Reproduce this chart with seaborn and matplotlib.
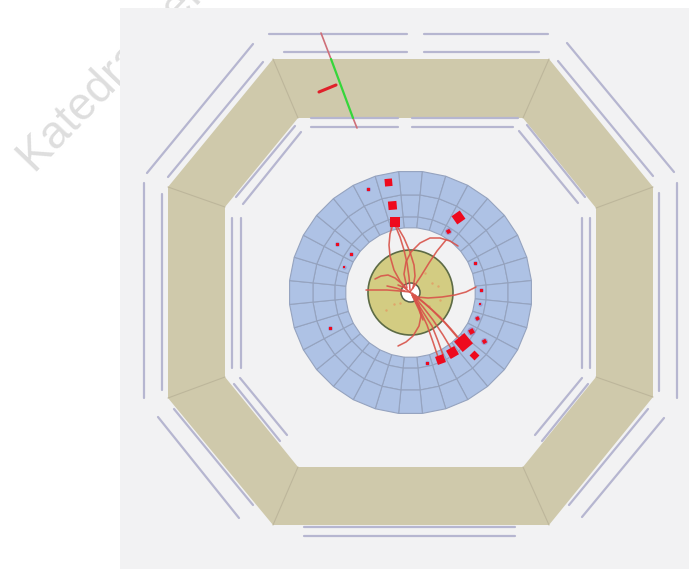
import numpy as np
import pandas as pd
import matplotlib
matplotlib.use("Agg")
import matplotlib.pyplot as plt
from matplotlib.markers import MarkerStyle
from matplotlib.transforms import Affine2D
import seaborn as sns

sns.set_theme(style="white")
plt.rcParams["font.family"] = ["Liberation Sans", "DejaVu Sans"]

panel_x = [120, 689, 689, 120]
panel_y = [8, 8, 569, 569]

outer_x = [273, 549, 653, 653, 549, 273, 168, 168]
outer_y = [59, 59, 187, 397, 525, 525, 398, 187]
inner_x = [298, 523, 596, 596, 523, 298, 225, 225]
inner_y = [118, 118, 208, 377, 467, 467, 377, 207]

# muon chambers: x0, y0, x1, y1
chambers = [
    (269, 34, 407, 34), (424, 34, 548, 34), (284, 52, 407, 52), (424, 52, 539, 52),
    (311, 118, 398, 118), (412, 118, 518, 118), (311, 127, 398, 127), (412, 127, 513, 127),
    (304, 527, 515, 527), (304, 536, 515, 536),
    (144, 183, 144, 398), (162, 194, 162, 390), (232, 218, 232, 368), (241, 218, 241, 368),
    (582, 218, 582, 368), (590, 218, 590, 368), (659, 193, 659, 391), (677, 183, 677, 398),
    (147, 173, 253, 44), (168, 177, 263, 62), (236, 197, 295, 126), (243, 204, 301, 132),
    (567, 43, 674, 172), (558, 61, 653, 176), (527, 125, 585, 197), (519, 131, 578, 203),
    (158, 417, 239, 518), (174, 409, 253, 505), (234, 384, 280, 441), (240, 378, 287, 435),
    (569, 505, 648, 409), (582, 517, 664, 418), (535, 435, 582, 378), (542, 441, 588, 384),
]

# calorimeter ring and tracker
center_x, center_y = 410.5, 292.5
ring_radii = [65, 76, 98, 121.5]
n_cells = 32
tracker_r = 42.5
hole_r = 9.5

tracks = [
    [(393, 224), (390, 234), (389, 245), (390, 256), (394, 270), (400, 281), (406, 288)],
    [(395, 225), (400, 237), (404, 250), (407, 263), (409, 277), (410, 290)],
    [(397, 226), (404, 238), (410, 252), (414, 265), (415, 276), (413, 288)],
    [(458, 246), (450, 241), (440, 238), (430, 238), (420, 243), (411, 252), (406, 262), (404, 274), (407, 288)],
    [(446, 240), (437, 251), (429, 263), (421, 276), (415, 285), (410, 292)],
    [(366, 290), (387, 290), (400, 291), (410, 292)],
    [(375, 279), (381, 276), (388, 275), (395, 278), (401, 283), (407, 290)],
    [(387, 286), (396, 288), (405, 291)],
    [(476, 287), (466, 292), (455, 295), (442, 297), (428, 298), (417, 297), (412, 293)],
    [(398, 346), (406, 342), (413, 336), (419, 326), (421, 316), (419, 305), (412, 295)],
    [(412, 295), (420, 310), (427, 325), (433, 342), (438, 357)],
    [(413, 296), (423, 312), (432, 326), (438, 341), (443, 355)],
    [(413, 295), (423, 307), (433, 320), (443, 335), (452, 350)],
    [(415, 295), (428, 306), (440, 317), (451, 329), (462, 342)],
    [(415, 296), (424, 303), (432, 310), (445, 323), (457, 337)],
    [(413, 297), (419, 310), (423, 320)],
    [(398, 285), (405, 288), (412, 294), (418, 300)],
]

# calorimeter hits
hit_x = [388, 392, 395, 458, 463, 452, 440, 474, 471, 484, 477, 481, 480, 475, 448, 368, 337, 351, 344, 330, 427]
hit_y = [182, 205, 222, 217, 342, 352, 359, 355, 331, 341, 318, 290, 304, 263, 231, 189, 244, 254, 267, 328, 363]
hit_w = [7.5, 8.5, 9.5, 10, 13.5, 9.5, 8.5, 7, 5, 4, 3.5, 3, 2.5, 3, 4, 3, 3, 3, 2.5, 3, 3]
hit_a = [5, 5, 0, 35, 40, 30, 20, 45, 30, 30, 30, 0, 0, 0, 30, 0, 0, 0, 0, 0, 0]

# muon track segments
muon_red = [[(321, 33), (331, 59)], [(353, 118), (357, 128)]]
muon_green = [[(331, 59), (353, 118)]]
stub = [[(319, 92), (336, 85)]]

small_spots_x = [394, 425, 440, 386, 429, 400, 432, 438]
small_spots_y = [304, 273, 300, 310, 306, 303, 283, 286]


def paths(groups):
    rows = [(i, x, y) for i, g in enumerate(groups) for x, y in g]
    return pd.DataFrame(rows, columns=["path", "x", "y"])


def draw(groups, ax, **kws):
    sns.lineplot(data=paths(groups), x="x", y="y", units="path", estimator=None,
                 sort=False, legend=False, ax=ax, **kws)


fig = plt.figure(figsize=(6.89, 5.69), dpi=100)
ax = fig.add_axes([0, 0, 1, 1])

ax.text(35, 174, "Katedra literatury", rotation=46, rotation_mode="anchor",
        fontsize=33, color="#dedede", ha="left", va="baseline", zorder=0)

ax.fill(panel_x, panel_y, color="#f2f2f3", lw=0, zorder=1)

# iron yoke
ax.fill(outer_x + outer_x[:1] + inner_x[:1] + inner_x[::-1],
        outer_y + outer_y[:1] + inner_y[:1] + inner_y[::-1],
        color="#cfc9ab", lw=0, zorder=2)
spokes = [[(a, b), (c, d)] for a, b, c, d in zip(outer_x, outer_y, inner_x, inner_y)]
draw(spokes, ax, color="#bdb69b", lw=0.8, zorder=3)

draw([[(a, b), (c, d)] for a, b, c, d in chambers], ax, color="#b6b6d0", lw=1.6, zorder=3)

# calorimeter cells, one cell is centred on the top of the ring
theta = (np.arange(n_cells + 1) - 0.5) * 2 * np.pi / n_cells
for r0, r1 in zip(ring_radii[:-1], ring_radii[1:]):
    for k in range(n_cells):
        t = theta[[k, k + 1, k + 1, k]]
        r = np.array([r1, r1, r0, r0])
        ax.fill(center_x + r * np.sin(t), center_y - r * np.cos(t),
                facecolor="#aec2e5", edgecolor="#95a3bf", lw=0.8, zorder=4)

ax.add_patch(plt.Circle((center_x, center_y), tracker_r, facecolor="#d3cc82",
                        edgecolor="#5d6b45", lw=1.2, zorder=5))
sns.scatterplot(x=small_spots_x, y=small_spots_y, s=3, color="#dfa56a", linewidth=0,
                legend=False, ax=ax, zorder=6)
ax.add_patch(plt.Circle((center_x, center_y), hole_r, facecolor="white",
                        edgecolor="#55604a", lw=1.1, zorder=6))

draw(tracks, ax, color="#d8534a", lw=1.15, alpha=0.9, zorder=7)

# hits, the small ones get a purple rim
hits = pd.DataFrame({"x": hit_x, "y": hit_y, "w": hit_w, "a": hit_a})
for _, h in hits.iterrows():
    side = h["w"] * 0.72
    if h["w"] < 5.5:
        sns.scatterplot(x=[h["x"]], y=[h["y"]], s=(side * 1.7) ** 2, color="#8f74b8",
                        alpha=0.5, marker="o", linewidth=0, legend=False, ax=ax, zorder=8)
    mk = MarkerStyle("s", transform=Affine2D().rotate_deg(h["a"]))
    sns.scatterplot(x=[h["x"]], y=[h["y"]], s=side ** 2, color="#ee0a1e", marker=mk,
                    linewidth=0, legend=False, ax=ax, zorder=9)

draw(muon_red, ax, color="#cf6f78", lw=1.2, zorder=8)
draw(muon_green, ax, color="#35d63a", lw=1.6, zorder=9)
draw(stub, ax, color="#e0202a", lw=2.2, zorder=9)

ax.set_xlim(0, 689)
ax.set_ylim(569, 0)
ax.axis("off")
fig.savefig("out.png", dpi=100)
